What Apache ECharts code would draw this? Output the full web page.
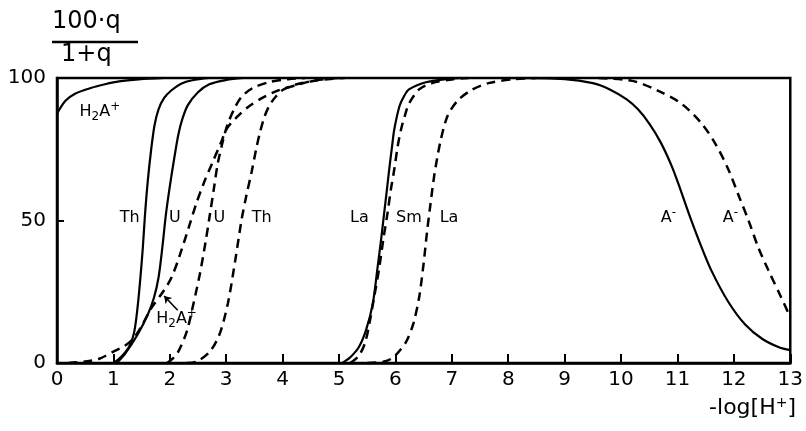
<!DOCTYPE html>
<html>
<head>
<meta charset="utf-8">
<script src="https://cdn.jsdelivr.net/npm/echarts@6/dist/echarts.min.js"></script>
<style>
  html, body { margin: 0; padding: 0; background: #fff; }
  #chart { width: 806px; height: 431px; }
</style>
</head>
<body>
<div id="chart"></div>
<script>
// Extraction curves: 100·q/(1+q) versus -log[H+]
const xTicks = [0, 1, 2, 3, 4, 5, 6, 7, 8, 9, 10, 11, 12, 13];
const yTicks = [0, 50, 100];

// solid curves
const h2aSolid = [[0,87.5],[0.15,92],[0.32,94.5],[0.6,96.5],[0.85,97.8],[1.1,98.8],[1.45,99.5],[1.9,100]];
const thSolid = [[1.0,0],[1.1,1.5],[1.2,3.5],[1.3,6.5],[1.37,11],[1.42,18],[1.47,28],[1.52,40],[1.56,52],[1.61,64],[1.67,75],[1.73,83.5],[1.8,89],[1.9,93],[2.03,95.7],[2.2,98],[2.4,99.2],[2.7,100]];
const uSolid = [[1.06,0],[1.2,3],[1.43,10],[1.61,17],[1.72,23],[1.8,30],[1.87,41],[1.93,52],[2.0,62],[2.08,72],[2.15,80],[2.22,85.5],[2.32,90.5],[2.5,95],[2.7,97.8],[3.0,99.3],[3.3,100]];
const laSolid = [[5.06,0],[5.2,2],[5.35,5.5],[5.48,11.6],[5.6,21],[5.68,33],[5.75,44],[5.8,52.6],[5.85,61],[5.89,68],[5.94,76],[5.98,82],[6.07,90],[6.15,93.5],[6.24,96],[6.54,98.5],[6.9,99.6],[7.2,100]];
const aSolid = [[8.0,100],[9.0,99.6],[9.5,98.2],[9.8,96],[10.1,92.5],[10.3,89],[10.5,84],[10.7,77.5],[10.9,69],[11.05,61],[11.2,52.5],[11.4,42],[11.6,32.5],[11.9,21.5],[12.2,13.5],[12.5,8.5],[12.8,5.5],[13,4.5]];

// dashed curves
const h2aDashed = [[0.2,0],[0.5,0.5],[0.75,1.5],[1.0,4],[1.2,6],[1.35,8.5],[1.5,13],[1.68,19.5],[1.88,25],[2.03,30],[2.18,38],[2.35,48.5],[2.47,56],[2.6,63],[2.76,70.5],[2.9,77],[3.02,82.5],[3.2,86.5],[3.4,90],[3.64,93],[3.9,95.5],[4.24,97.5],[4.6,99.3],[5.0,100]];
const uDashed = [[1.95,0],[2.05,1.5],[2.15,4],[2.3,11],[2.41,20],[2.53,31],[2.63,42],[2.71,52],[2.78,61],[2.85,70],[2.93,77],[3.02,83.5],[3.15,89.5],[3.27,93.3],[3.47,96.5],[3.77,98.6],[4.1,99.6],[4.4,100]];
const thDashed = [[2.3,0],[2.48,0.5],[2.71,4],[2.88,10],[3.03,21],[3.16,36],[3.27,50],[3.36,59],[3.45,67],[3.53,75],[3.6,81],[3.68,86.5],[3.77,90.5],[3.88,93.5],[4.0,95.8],[4.25,97.8],[4.5,98.8],[4.8,99.6],[5.1,100]];
const smDashed = [[5.2,0],[5.35,2.5],[5.46,7],[5.54,14],[5.63,24],[5.71,33],[5.79,44],[5.86,52.6],[5.92,61],[5.98,68],[6.04,76],[6.1,82],[6.17,87],[6.24,91],[6.42,96],[6.65,98.2],[7.0,99.5],[7.3,100]];
const laDashed = [[5.5,0],[5.8,0.5],[5.95,1.8],[6.07,4.2],[6.2,7.8],[6.32,14],[6.42,23],[6.5,35],[6.56,46],[6.61,54],[6.69,66],[6.79,77],[6.92,86.5],[7.1,92],[7.35,95.8],[7.65,98.2],[8.1,99.6],[8.5,100]];
const aDashed = [[9.6,100],[10.2,99],[10.66,95.5],[11.07,91],[11.43,84],[11.67,77],[11.9,68],[12.1,58],[12.26,50],[12.43,40.7],[12.61,32.6],[12.84,23],[13,16]];

// curve labels: [x, y, text]
const curveLabels = [
  [0.76, 88, 'H{sub|2}A{sup|+}'],
  [1.29, 51, 'Th'],
  [2.09, 51, 'U'],
  [2.88, 51, 'U'],
  [3.63, 51, 'Th'],
  [5.36, 51, 'La'],
  [6.24, 51, 'Sm'],
  [6.95, 51, 'La'],
  [10.84, 51, 'A{sup|-}'],
  [11.94, 51, 'A{sup|-}'],
  [2.12, 15.5, 'H{sub|2}A{sup|+}']
];
// pointer from the lower H2A+ label to its curve
const pointerFrom = [2.14, 18.5];
const pointerTo = [1.9, 23.5];

const FONT = 'DejaVu Sans';
const INK = '#000';

function solid(data) {
  return { type: 'line', data, smooth: 0.3, showSymbol: false, silent: true,
    lineStyle: { color: INK, width: 2.2, type: 'solid' } };
}
function dashed(data) {
  return { type: 'line', data, smooth: 0.3, showSymbol: false, silent: true,
    lineStyle: { color: INK, width: 2.5, type: [9, 6] } };
}

const chart = echarts.init(document.getElementById('chart'), null, { renderer: 'canvas' });

chart.setOption({
  animation: false,
  backgroundColor: '#fff',
  grid: { left: 57, right: 14, top: 78, bottom: 68, show: true, borderColor: INK, borderWidth: 2.5 },
  xAxis: {
    type: 'value', min: xTicks[0], max: xTicks[xTicks.length - 1], interval: 1,
    axisLine: { lineStyle: { color: INK, width: 2.5 } },
    axisTick: { inside: true, length: 9, lineStyle: { color: INK, width: 2 } },
    axisLabel: { color: INK, fontFamily: FONT, fontSize: 20, margin: 7 },
    splitLine: { show: false }
  },
  yAxis: {
    type: 'value', min: yTicks[0], max: yTicks[yTicks.length - 1], interval: 50,
    axisLine: { lineStyle: { color: INK, width: 2.5 } },
    axisTick: { inside: true, length: 7, lineStyle: { color: INK, width: 2 } },
    axisLabel: { color: INK, fontFamily: FONT, fontSize: 20, margin: 11 },
    splitLine: { show: false }
  },
  series: [
    solid(h2aSolid), solid(thSolid), solid(uSolid), solid(laSolid), solid(aSolid),
    dashed(h2aDashed), dashed(uDashed), dashed(thDashed), dashed(smDashed), dashed(laDashed), dashed(aDashed),
    {
      type: 'scatter', symbolSize: 0, silent: true,
      itemStyle: { opacity: 1, color: INK },
      data: curveLabels.map(d => ({ value: [d[0], d[1]], name: d[2] })),
      label: {
        show: true, position: 'inside', formatter: p => p.name, opacity: 1,
        color: INK, fontFamily: FONT, fontSize: 16, textBorderWidth: 0,
        rich: {
          sub: { fontFamily: FONT, fontSize: 12, color: INK, textBorderWidth: 0, verticalAlign: 'bottom', padding: [10, 0, 0, 0] },
          sup: { fontFamily: FONT, fontSize: 12, color: INK, textBorderWidth: 0, verticalAlign: 'top', padding: [0, 0, 10, 0] }
        }
      }
    },
    {
      type: 'line', data: [], silent: true,
      markLine: {
        silent: true, symbol: ['none', 'arrow'], symbolSize: 7,
        label: { show: false },
        lineStyle: { color: INK, width: 1.6, type: 'solid' },
        data: [[{ coord: pointerFrom }, { coord: pointerTo }]]
      }
    }
  ],
  graphic: [
    { type: 'text', left: 52, top: 10, style: { text: '100·q', font: '24px "DejaVu Sans"', fill: INK } },
    { type: 'line', shape: { x1: 52, y1: 42, x2: 138, y2: 42 }, style: { stroke: INK, lineWidth: 2.5 } },
    { type: 'text', left: 61, top: 43, style: { text: '1+q', font: '24px "DejaVu Sans"', fill: INK } },
    {
      type: 'text', right: 10, top: 396,
      style: {
        text: '-log[H{sup|+}]', font: '22px "DejaVu Sans"', fill: INK,
        rich: { sup: { fontFamily: FONT, fontSize: 14, fill: INK, verticalAlign: 'top', padding: [0, 0, 10, 0] } }
      }
    }
  ]
});
</script>
</body>
</html>
